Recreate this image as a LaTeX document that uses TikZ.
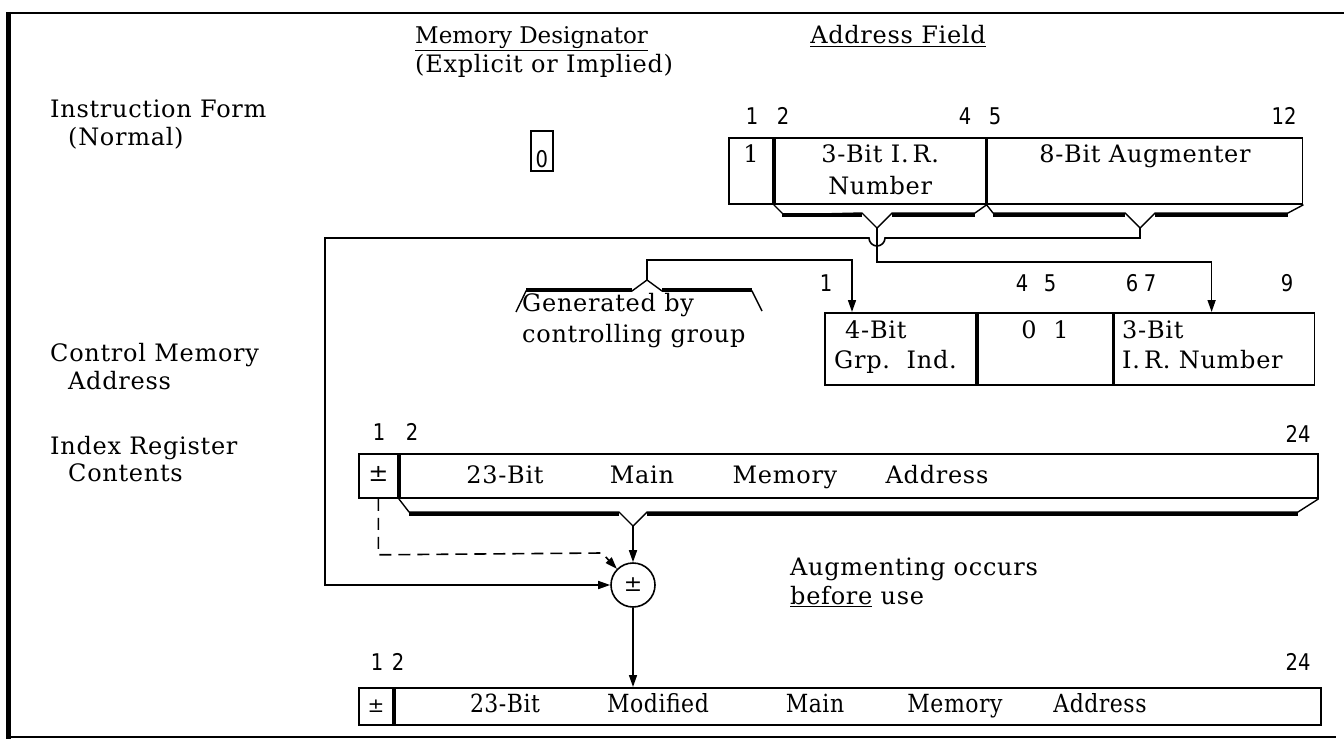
\documentclass[tikz,border=0pt]{standalone}
\usepackage{fontspec}
\setmainfont[LetterSpace=3]{DejaVu Serif}
\newfontfamily\plainserif{DejaVu Serif}
\newfontfamily\bitfont[FakeStretch=0.85]{DejaVu Sans}
\newfontfamily\narrowfont[FakeStretch=0.88, LetterSpace=2]{DejaVu Serif}
\usepackage{tikz}
\usetikzlibrary{arrows.meta,positioning,calc}

\begin{document}
\begin{tikzpicture}[x=1pt, y=-1pt,
  lbl/.style={font=\fontsize{24}{31}\selectfont, inner sep=0, anchor=west, text height=17pt, text depth=5pt},
  txt/.style={font=\fontsize{24}{31}\selectfont, inner sep=0, text height=17pt, text depth=5pt},
  bitno/.style={font=\bitfont\fontsize{23}{26}\selectfont, inner sep=0},
  lowtxt/.style={font=\narrowfont\fontsize{25}{28}\selectfont, inner sep=0, text height=17pt, text depth=5pt},
  fld/.style={draw, line width=1.8pt, inner sep=0, anchor=north west},
  brk/.style={line width=1.4pt, line join=miter},
  band/.style={line width=4pt},
  arr/.style={-{Triangle[length=12pt,width=8pt]}, line width=1.6pt}]
  \useasboundingbox (0,0) rectangle (1344,741);
  % frame
  \draw[line width=5pt] (8,12) -- (8,739);
  \draw[line width=2pt] (6,13) -- (1344,13);
  \draw[line width=2pt] (6,737) -- (1336,737);

  % headings
  \node[txt, anchor=west, font=\plainserif\fontsize{23}{28}\selectfont] (hmd) at (415,38) {\underline{Memory Designator}};
  \node[txt, anchor=west] (hmd2) at (415,67) {(Explicit or Implied)};
  \node[txt] (haf) at (898,38) {\underline{Address Field}};
  \node[lbl] (lif) at (50,112) {Instruction Form};
  \node[lbl] (lif2) at (68,140) {(Normal)};
  \node[lbl] (lcm) at (50,355) {Control Memory};
  \node[lbl] (lcm2) at (68,383) {Address};
  \node[lbl] (lir) at (50,448) {Index Register};
  \node[lbl] (lir2) at (68,475) {Contents};

  % memory designator
  \node[fld, minimum width=22, minimum height=40] (md) at (530,130) {};
  \node[bitno] (md0) at ($(md.south)+(0,-13)$) {0};

  % instruction form
  \node[fld, minimum width=44, minimum height=66] (if1) at (728,137) {};
  \node[fld, minimum width=211, minimum height=66] (if2) at (if1.north east) {};
  \node[fld, minimum width=315, minimum height=66] (if3) at (if2.north east) {};
  \node[txt] (if1t) at ($(if1.north)+(0,20)$) {1};
  \node[txt] (if2t) at ($(if2.north)+(0,20)$) {3-Bit I.\,R.};
  \node[txt] (if2u) at ($(if2.north)+(0,51)$) {Number};
  \node[txt] (if3t) at ($(if3.north)+(0,20)$) {8-Bit Augmenter};
  \node[bitno] (b1) at (752,116) {1};
  \node[bitno] (b2) at (783,116) {2};
  \node[bitno] (b4) at (965,116) {4};
  \node[bitno] (b5) at (995,116) {5};
  \node[bitno] (b12) at (1284,116) {12};

  % brackets under the address field
  \coordinate (v1) at (877,228);
  \coordinate (v2) at (1140,228);
  \draw[brk] (if2.south west) -- ++(10,10) -- (862,213) -- (v1) -- (892,213) -- (975,213) -- (if2.south east)
    -- (993,213) -- (1125,213) -- (v2) -- (1155,213) -- (1288,213) -- (if3.south east);
  \draw[band] (782,215) -- (862,215) (892,215) -- (975,215);
  \draw[band] (993,215) -- (1125,215) (1155,215) -- (1288,215);

  % control memory address
  \node[fld, minimum width=151, minimum height=72] (cm1) at (824,312) {};
  \node[fld, minimum width=135, minimum height=72] (cm2) at (cm1.north east) {};
  \node[fld, minimum width=200, minimum height=72] (cm3) at (cm2.north east) {};
  \node[txt, anchor=west] (cm1a) at (845,332) {4-Bit};
  \node[txt, anchor=west] (cm1b) at (834,362) {Grp.\ \ Ind.};
  \node[txt] (cm2a) at (1045,332) {0\ \ 1};
  \node[txt, anchor=west] (cm3a) at (1122,332) {3-Bit};
  \node[txt, anchor=west] (cm3b) at (1122,362) {I.\,R. Number};
  \node[bitno] (c1) at (826,283) {1};
  \node[bitno] (c4) at (1022,283) {4};
  \node[bitno] (c5) at (1050,283) {5};
  \node[bitno] (c6) at (1132,283) {6};
  \node[bitno] (c7) at (1150,283) {7};
  \node[bitno] (c9) at (1287,283) {9};

  % generated by controlling group
  \coordinate (gp) at (647,280);
  \draw[brk] (516,312) -- (526,291) -- (632,291) -- (gp) -- (662,291) -- (752,291) -- (762,311);
  \draw[band] (526,290) -- (632,290) (662,290) -- (752,290);
  \node[txt, anchor=west] (gen1) at (522,305) {Generated by};
  \node[txt, anchor=west] (gen2) at (522,336) {controlling group};
  \draw[arr] (gp) -- ++(0,-20) -| ([xshift=28pt]cm1.north west);
  \draw[arr] (v1) -- ++(0,34) -| ([xshift=98pt]cm3.north west);

  % index register contents
  \node[fld, minimum width=39, minimum height=44] (ir1) at (358,453) {};
  \node[fld, minimum width=918, minimum height=44] (ir2) at (ir1.north east) {};
  \node[txt] (ir1t) at (ir1.center) {±};
  \node[txt] (ir2a) at (505,477) {23-Bit};
  \node[txt] (ir2b) at (642,477) {Main};
  \node[txt] (ir2c) at (785,477) {Memory};
  \node[txt] (ir2d) at (937,477) {Address};
  \node[bitno] (i1) at (379,432) {1};
  \node[bitno] (i2) at (412,432) {2};
  \node[bitno] (i24) at (1298,434) {24};
  \coordinate (v3) at (633,526);
  \draw[brk] (ir2.south west) -- (409,512) -- (619,512) -- (v3) -- (647,512) -- (1298,512) -- (ir2.south east);
  \draw[band] (409,514) -- (619,514) (647,514) -- (1298,514);

  % adder
  \node[circle, draw, line width=1.6pt, minimum size=44, inner sep=0, font=\fontsize{22}{24}\selectfont] (sum) at (633,585) {±};
  \draw[arr] (v3) -- (sum);
  \draw[arr, dash pattern=on 12pt off 7pt] (ir1.south) -- ++(0,56) -- (602,553) -- (sum.north west);
  \draw[arr] (v2) -- ++(0,10) -- (885,238) arc[start angle=0, end angle=180, radius=8] -- (325,238) |- (sum.west);
  \node[txt, anchor=west] (aug1) at (790,569) {Augmenting occurs};
  \node[txt, anchor=west] (aug2) at (790,598) {\underline{before} use};

  % modified address
  \node[fld, minimum width=34, minimum height=37] (mm1) at (358,687) {};
  \node[fld, minimum width=926, minimum height=37] (mm2) at (mm1.north east) {};
  \node[txt, font=\fontsize{20}{24}\selectfont] (mm1t) at (mm1.center) {±};
  \node[lowtxt] (mm2a) at (505,706) {23-Bit};
  \node[lowtxt] (mm2b) at (658,706) {Modified};
  \node[lowtxt] (mm2c) at (815,706) {Main};
  \node[lowtxt] (mm2d) at (955,706) {Memory};
  \node[lowtxt] (mm2e) at (1100,706) {Address};
  \node[bitno] (m1) at (377,662) {1};
  \node[bitno] (m2) at (398,662) {2};
  \node[bitno] (m24) at (1298,662) {24};
  \draw[arr] (sum) -- (sum |- mm2.north);
\end{tikzpicture}
\end{document}
